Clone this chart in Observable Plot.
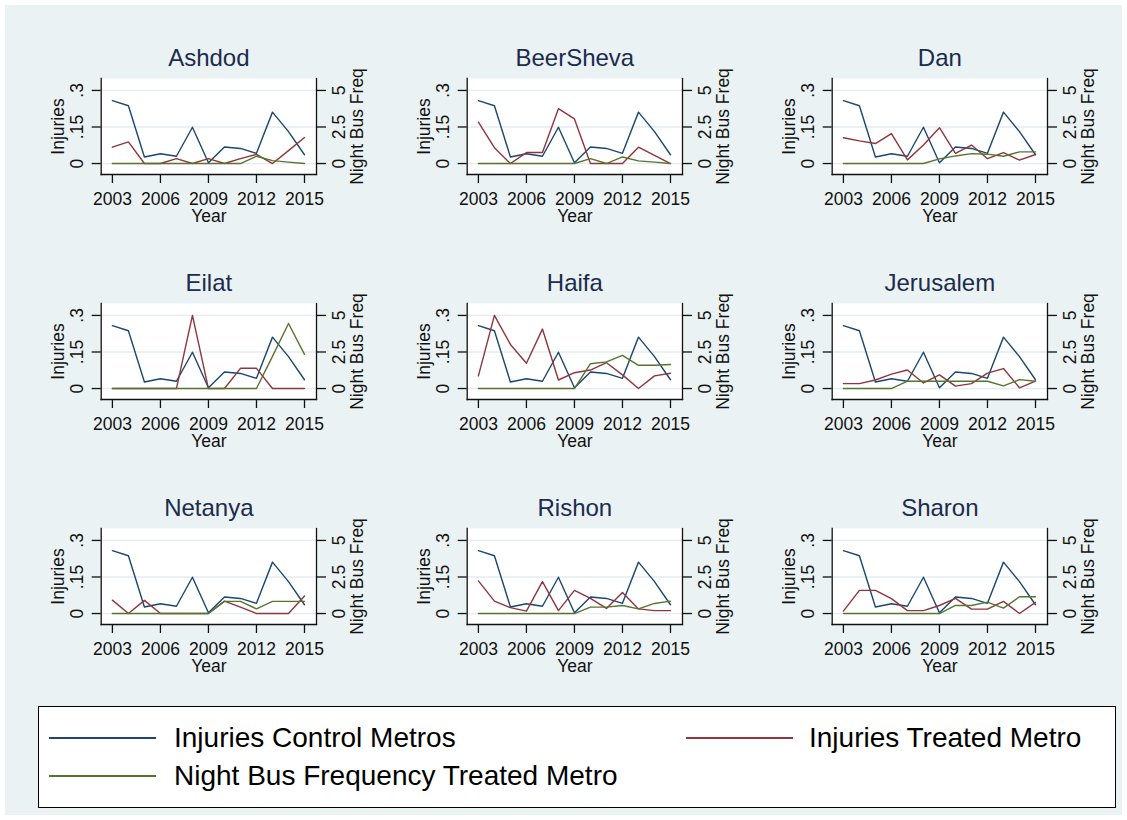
<!DOCTYPE html>
<html>
<head>
<meta charset="utf-8">
<script src="https://cdn.jsdelivr.net/npm/d3@7"></script>
<script src="https://cdn.jsdelivr.net/npm/@observablehq/plot@0.6"></script>
<style>
  html, body { margin: 0; padding: 0; background: #ffffff; }
  body { width: 1127px; height: 820px; position: relative; overflow: hidden; font-family: Arial, "Liberation Sans", sans-serif; }
  #bg { position: absolute; left: 5px; top: 5px; width: 1117px; height: 810px; background: #eaf2f3; }
  .panel { position: absolute; }
  #legend { position: absolute; left: 38px; top: 706px; width: 1078px; height: 102px; background: #ffffff; border: 1px solid #000; box-sizing: border-box; }
  .lg-line { position: absolute; height: 2px; }
  .lg-text { position: absolute; font-size: 28px; line-height: 32px; color: #000; white-space: nowrap; }
</style>
</head>
<body>
<div id="bg"></div>
<div id="panels"></div>
<div id="legend"></div>
<script>
// ---------------- data ----------------
const years = [2003, 2004, 2005, 2006, 2007, 2008, 2009, 2010, 2011, 2012, 2013, 2014, 2015];
const xTicks = [2003, 2006, 2009, 2012, 2015];
const injuryTicks = [0, 0.15, 0.3];
const busTicks = [0, 2.5, 5];
const cities = ["Ashdod", "BeerSheva", "Dan", "Eilat", "Haifa", "Jerusalem", "Netanya", "Rishon", "Sharon"];
const seriesNames = ["Injuries Control Metros", "Injuries Treated Metro", "Night Bus Frequency Treated Metro"];

const controlInjuries = [0.258, 0.237, 0.027, 0.040, 0.030, 0.149, 0.003, 0.068, 0.062, 0.042, 0.211, 0.131, 0.036];

const ashdodInjuries    = [0.067, 0.089, 0, 0, 0.020, 0, 0.020, 0, 0.020, 0.038, 0, 0.053, 0.107];
const ashdodBus         = [0, 0, 0, 0, 0, 0, 0, 0, 0, 0.5, 0.2, 0.1, 0];
const beershevaInjuries = [0.170, 0.065, 0, 0.045, 0.045, 0.225, 0.183, 0, 0, 0, 0.067, 0.033, 0];
const beershevaBus      = [0, 0, 0, 0, 0, 0, 0, 0.34, 0, 0.45, 0.18, 0.1, 0];
const danInjuries       = [0.106, 0.093, 0.082, 0.123, 0.015, 0.076, 0.147, 0.042, 0.076, 0.020, 0.045, 0.014, 0.037];
const danBus            = [0, 0, 0, 0, 0, 0, 0.32, 0.52, 0.68, 0.64, 0.5, 0.8, 0.8];
const eilatInjuries     = [0, 0, 0, 0, 0, 0.300, 0, 0, 0.083, 0.083, 0, 0, 0];
const eilatBus          = [0, 0, 0, 0, 0, 0, 0, 0, 0, 0, 2.2, 4.45, 2.34];
const haifaInjuries     = [0.052, 0.300, 0.181, 0.104, 0.244, 0.035, 0.065, 0.076, 0.106, 0.056, 0, 0.052, 0.063];
const haifaBus          = [0, 0, 0, 0, 0, 0, 0, 1.7, 1.82, 2.27, 1.59, 1.59, 1.64];
const jerusalemInjuries = [0.020, 0.020, 0.035, 0.059, 0.076, 0.023, 0.056, 0.010, 0.020, 0.063, 0.082, 0.003, 0.030];
const jerusalemBus      = [0, 0, 0, 0, 0.5, 0.5, 0.5, 0.5, 0.5, 0.5, 0.18, 0.61, 0.5];
const netanyaInjuries   = [0.055, 0, 0.054, 0, 0, 0, 0, 0.051, 0.026, 0, 0, 0, 0.072];
const netanyaBus        = [0, 0, 0, 0, 0, 0, 0, 0.83, 0.83, 0.32, 0.83, 0.83, 0.83];
const rishonInjuries    = [0.134, 0.051, 0.024, 0.010, 0.131, 0.012, 0.095, 0.062, 0.021, 0.086, 0.019, 0.012, 0.012];
const rishonBus         = [0, 0, 0, 0, 0, 0, 0, 0.44, 0.44, 0.55, 0.32, 0.69, 0.85];
const sharonInjuries    = [0.010, 0.095, 0.095, 0.061, 0.012, 0.012, 0.033, 0.062, 0.018, 0.018, 0.050, 0, 0.046];
const sharonBus         = [0, 0, 0, 0, 0, 0, 0, 0.55, 0.55, 0.78, 0.37, 1.15, 1.15];

const treatedInjuries = [ashdodInjuries, beershevaInjuries, danInjuries, eilatInjuries, haifaInjuries, jerusalemInjuries, netanyaInjuries, rishonInjuries, sharonInjuries];
const treatedBus = [ashdodBus, beershevaBus, danBus, eilatBus, haifaBus, jerusalemBus, netanyaBus, rishonBus, sharonBus];

// ---------------- styles ----------------
const BLUE = "#1a476f", RED = "#90353b", GREEN = "#55752f";
const TITLE = "#1c2b4e";
const FONT = "Arial, 'Liberation Sans', sans-serif";
const BUS_TO_INJ = 0.3 / 5; // right axis: 5 buses ↔ .3 injuries

const fmtInj = d => d === 0 ? "0" : String(d).replace(/^0/, "");
const fmtBus = d => String(Math.round(d / BUS_TO_INJ * 10) / 10);

const host = document.getElementById("panels");
cities.forEach((name, k) => {
  const col = k % 3, row = Math.floor(k / 3);
  const inj = treatedInjuries[k], bus = treatedBus[k];
  const data = years.map((y, i) => ({year: y, control: controlInjuries[i], treated: inj[i], bus: bus[i] * BUS_TO_INJ}));
  const svg = Plot.plot({
    width: 365, height: 225,
    marginLeft: 100.7, marginRight: 49, marginTop: 78, marginBottom: 51,
    style: {background: "transparent", overflow: "visible", fontFamily: FONT, fontSize: "17.5px", color: "#111"},
    x: {domain: [2002.3, 2015.75]},
    y: {domain: [-0.045, 0.349]},
    marks: [
      Plot.frame({fill: "white", stroke: null}),
      Plot.gridY(injuryTicks, {stroke: "#e3ecf0", strokeOpacity: 1, strokeWidth: 1.3}),
      Plot.line(data, {x: "year", y: "control", stroke: BLUE, strokeWidth: 1.4}),
      Plot.line(data, {x: "year", y: "treated", stroke: RED, strokeWidth: 1.4}),
      Plot.line(data, {x: "year", y: "bus", stroke: GREEN, strokeWidth: 1.4}),
      Plot.frame({anchor: "left", stroke: "#111", strokeWidth: 1.3}),
      Plot.frame({anchor: "right", stroke: "#111", strokeWidth: 1.3}),
      Plot.frame({anchor: "bottom", stroke: "#111", strokeWidth: 1.3}),
      Plot.axisX({ticks: xTicks, tickSize: 9, tickPadding: 9, tickFormat: d => String(d), label: null, strokeWidth: 1.3}),
      Plot.axisY({anchor: "left", ticks: injuryTicks, tickSize: 9, tickRotate: -90, tickPadding: 9,
                  textAnchor: "middle", lineAnchor: "bottom", tickFormat: fmtInj, label: null, strokeWidth: 1.3}),
      Plot.axisY({anchor: "right", ticks: busTicks.map(b => b * BUS_TO_INJ), tickSize: 9, tickRotate: -90, tickPadding: 7,
                  textAnchor: "middle", lineAnchor: "top", tickFormat: fmtBus, label: null, strokeWidth: 1.3}),
      Plot.text([name], {text: d => d, frameAnchor: "top", dy: -20, lineAnchor: "middle", fontSize: 24, fill: TITLE}),
      Plot.text(["Year"], {text: d => d, frameAnchor: "bottom", dy: 42, lineAnchor: "middle", fill: "#111"}),
      Plot.text(["Injuries"], {text: d => d, frameAnchor: "left", dx: -37.5, rotate: -90, textAnchor: "middle", lineAnchor: "bottom", fill: "#111"}),
      Plot.text(["Night Bus Freq"], {text: d => d, frameAnchor: "right", dx: 34, rotate: -90, textAnchor: "middle", lineAnchor: "top", fill: "#111"})
    ]
  });
  svg.classList.add("panel");
  svg.style.left = (col * 365.5) + "px";
  svg.style.top = (row * 224.85) + "px";
  host.appendChild(svg);
});

// ---------------- legend ----------------
const legend = document.getElementById("legend");
const legendItems = [
  {name: seriesNames[0], color: BLUE,  lx: 48,  tx: 173, y: 737},
  {name: seriesNames[1], color: RED,   lx: 685, tx: 808, y: 737},
  {name: seriesNames[2], color: GREEN, lx: 48,  tx: 173, y: 775}
];
legendItems.forEach(it => {
  const l = document.createElement("div");
  l.className = "lg-line";
  l.style.left = (it.lx - 38) + "px";
  l.style.width = "107px";
  l.style.top = (it.y - 706 - 1) + "px";
  l.style.background = it.color;
  legend.appendChild(l);
  const t = document.createElement("div");
  t.className = "lg-text";
  t.style.left = (it.tx - 38) + "px";
  t.style.top = (it.y - 706 - 16) + "px";
  t.textContent = it.name;
  legend.appendChild(t);
});
</script>
</body>
</html>
